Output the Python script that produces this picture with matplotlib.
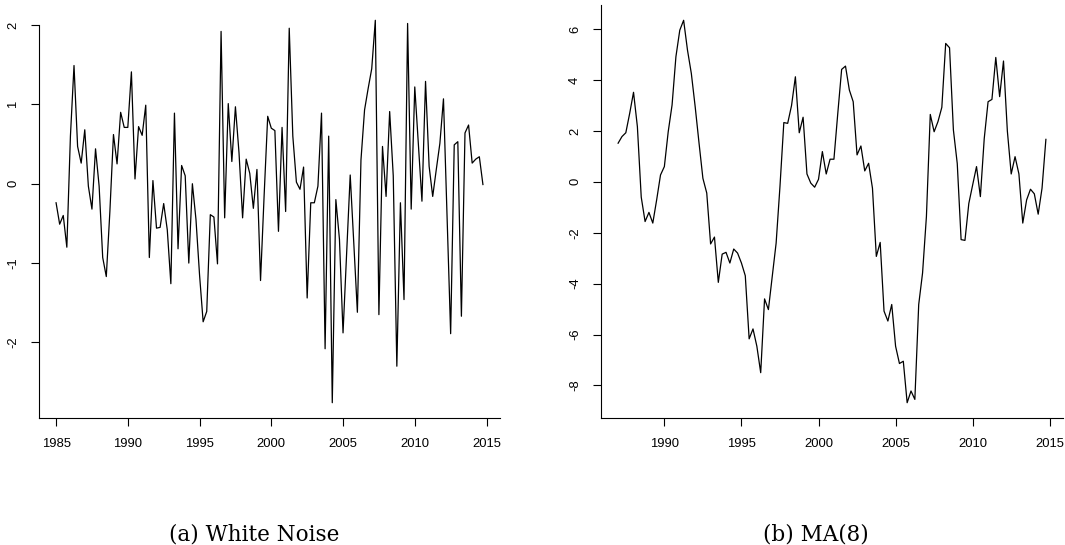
import numpy as np
import matplotlib
matplotlib.use("Agg")
import matplotlib.pyplot as plt

plt.rcParams["font.family"] = ["Liberation Sans", "DejaVu Sans"]
plt.rcParams["axes.unicode_minus"] = False

# ============================
# DATA (quarterly)
# ============================
wn_start = 1985.0
white_noise = [
    -0.24, -0.51, -0.40, -0.80, 0.60, 1.49, 0.47, 0.26, 0.68, -0.03,
    -0.32, 0.44, -0.03, -0.93, -1.17, -0.35, 0.62, 0.25, 0.90, 0.71,
    0.71, 1.41, 0.06, 0.72, 0.61, 0.99, -0.93, 0.04, -0.56, -0.55,
    -0.25, -0.58, -1.26, 0.89, -0.82, 0.23, 0.10, -1.00, 0.00, -0.45,
    -1.15, -1.74, -1.61, -0.39, -0.42, -1.01, 1.92, -0.43, 1.01, 0.28,
    0.97, 0.39, -0.43, 0.31, 0.13, -0.31, 0.18, -1.22, -0.15, 0.85,
    0.70, 0.67, -0.60, 0.71, -0.35, 1.96, 0.60, 0.02, -0.07, 0.21,
    -1.44, -0.24, -0.24, -0.03, 0.89, -2.08, 0.60, -2.76, -0.20, -0.70,
    -1.88, -0.88, 0.11, -0.75, -1.62, 0.30, 0.93, 1.20, 1.45, 2.06,
    -1.65, 0.47, -0.16, 0.91, 0.10, -2.30, -0.24, -1.46, 2.02, -0.32,
    1.22, 0.50, -0.22, 1.29, 0.22, -0.16, 0.18, 0.51, 1.07, -0.41,
    -1.89, 0.49, 0.53, -1.67, 0.64, 0.74, 0.26, 0.31, 0.34, -0.01,
]

ma_start = 1987.0
ma8 = [
    1.52, 1.78, 1.93, 2.69, 3.52, 2.17, -0.60, -1.56, -1.20, -1.62,
    -0.71, 0.27, 0.60, 1.97, 3.02, 4.92, 5.96, 6.35, 5.18, 4.26,
    2.95, 1.52, 0.14, -0.44, -2.44, -2.17, -3.95, -2.84, -2.77, -3.19,
    -2.64, -2.80, -3.19, -3.69, -6.17, -5.78, -6.46, -7.50, -4.60, -5.02,
    -3.71, -2.41, -0.18, 2.33, 2.30, 3.00, 4.13, 1.93, 2.54, 0.31,
    -0.05, -0.21, 0.10, 1.19, 0.31, 0.89, 0.89, 2.69, 4.42, 4.55,
    3.61, 3.15, 1.06, 1.41, 0.43, 0.73, -0.25, -2.93, -2.38, -5.08,
    -5.47, -4.82, -6.46, -7.14, -7.05, -8.68, -8.22, -8.55, -4.82, -3.58,
    -1.36, 2.65, 1.97, 2.37, 2.93, 5.44, 5.27, 2.04, 0.72, -2.27,
    -2.30, -0.85, -0.12, 0.60, -0.58, 1.70, 3.15, 3.24, 4.89, 3.35,
    4.75, 2.00, 0.31, 0.99, 0.31, -1.62, -0.71, -0.29, -0.47, -1.27,
    -0.25, 1.67,
]

wn_time = wn_start + np.arange(len(white_noise)) / 4
ma_time = ma_start + np.arange(len(ma8)) / 4

wn_xticks = [1985, 1990, 1995, 2000, 2005, 2010, 2015]
wn_yticks = [-2, -1, 0, 1, 2]
ma_xticks = [1990, 1995, 2000, 2005, 2010, 2015]
ma_yticks = [-8, -6, -4, -2, 0, 2, 4, 6]


def r_lim(v):
    # R style range with 4% padding
    lo, hi = min(v), max(v)
    pad = 0.04 * (hi - lo)
    return lo - pad, hi + pad


def r_axes(ax, t, y, xticks, yticks):
    ax.plot(t, y, color="black", linewidth=0.9)
    ax.set_xlim(r_lim(t))
    ax.set_ylim(r_lim(y))
    ax.set_xticks(xticks)
    ax.set_yticks(yticks)
    ax.set_yticklabels([str(v) for v in yticks], rotation=90, va="center")
    ax.spines["top"].set_visible(False)
    ax.spines["right"].set_visible(False)
    for s in ("left", "bottom"):
        ax.spines[s].set_linewidth(0.8)
    ax.tick_params(direction="out", length=5.8, width=0.8, pad=8.5,
                   labelsize=9.4, colors="black")


W, H = 1065, 545
fig = plt.figure(figsize=(W / 100, H / 100), dpi=100)

# ============================
# (a) WHITE NOISE
# ============================
ax1 = fig.add_axes([39 / W, (H - 418) / H, 461 / W, 413 / H])
r_axes(ax1, wn_time, white_noise, wn_xticks, wn_yticks)
ax1.spines["left"].set_bounds(ax1.get_ylim()[0], 2)

# ============================
# (b) MA(8)
# ============================
ax2 = fig.add_axes([601 / W, (H - 418) / H, 462 / W, 413 / H])
r_axes(ax2, ma_time, ma8, ma_xticks, ma_yticks)

# captions
cap_font = dict(family="DejaVu Serif", fontsize=15.5, ha="center", va="baseline")
fig.text(254 / W, 5 / H, "(a) White Noise", **cap_font)
fig.text(816 / W, 5 / H, "(b) MA(8)", **cap_font)

fig.savefig("out.png", dpi=100)
